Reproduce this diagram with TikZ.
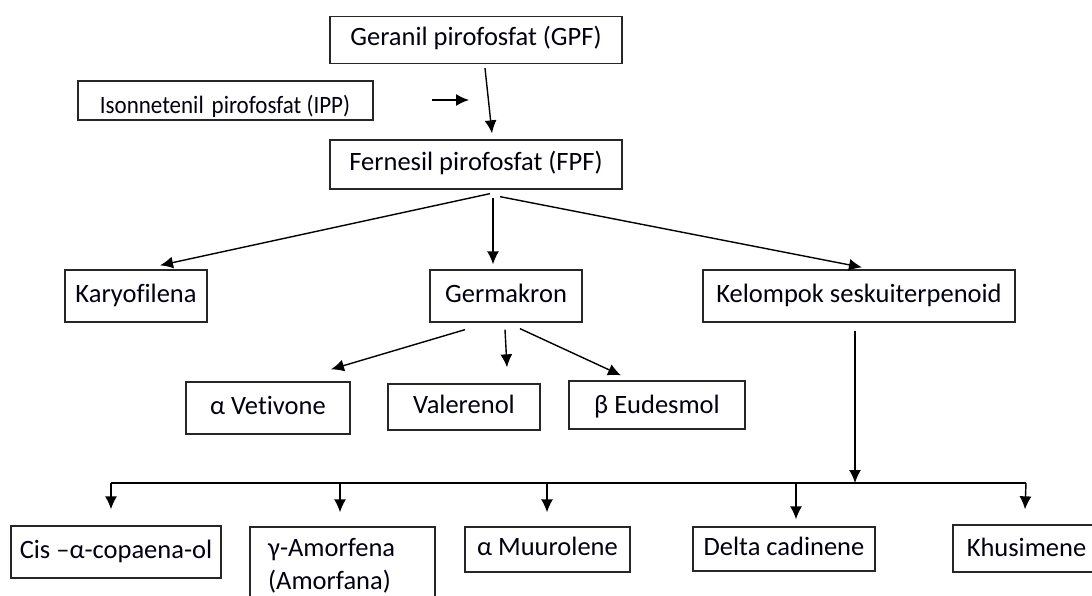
\documentclass[tikz,border=0pt]{standalone}
\usepackage{fontspec}
\setmainfont[Ligatures={NoCommon}]{Carlito}
\usetikzlibrary{arrows.meta,calc}
\begin{document}
\begin{tikzpicture}[x=1pt,y=-1pt,
  box/.style={draw=black!85, line width=1.3pt, rectangle, inner sep=0pt,
    font=\fontsize{26.5}{33}\selectfont, text height=18pt, text depth=6pt,
    text=black!85!blue!40!black},
  arr/.style={line width=1.4pt, -{Latex[length=13pt,width=12pt]}},
  ln/.style={line width=1.4pt}]
\useasboundingbox (0,0) rectangle (1092,596);
\clip (0,0) rectangle (1092,596);
% nodes
\node[box, minimum width=292pt, minimum height=47pt] (gpf) at (476,40) {Geranil pirofosfat (GPF)};
\node[box, minimum width=295pt, minimum height=39pt] (ipp) at (225.5,100.5) {};
\begin{scope}
\clip (78,81) rectangle (373,117);
\node[font=\fontsize{25}{30}\selectfont, text=black!85!blue!40!black, inner sep=0pt, text height=17pt, text depth=5pt] (ipptxt) at (225,108) {\scalebox{0.92}[1]{Isonnetenil\hspace{3pt} pirofosfat (IPP)}};
\end{scope}
\node[box, minimum width=292pt, minimum height=49pt] (fpf) at (476,164.5) {Fernesil pirofosfat (FPF)};
\node[box, minimum width=142pt, minimum height=52pt] (karyo) at (136,296) {Karyofilena};
\node[box, minimum width=152pt, minimum height=52pt] (germ) at (506,296) {Germakron};
\node[box, minimum width=312pt, minimum height=52pt] (kel) at (859,296) {Kelompok seskuiterpenoid};
\node[box, minimum width=164pt, minimum height=52pt] (vet) at (268,408) {α Vetivone};
\node[box, minimum width=152pt, minimum height=46pt] (val) at (464,407) {Valerenol};
\node[box, minimum width=176pt, minimum height=48pt] (eud) at (657,405) {\raisebox{-2pt}{β Eudesmol}};
\node[box, minimum width=210pt, minimum height=52pt] (cis) at (116,552) {Cis –α-copaena-ol};
\node[box, minimum width=185pt, minimum height=83pt] (amo) at (342.5,568.5) {};
\node[font=\fontsize{26.5}{33}\selectfont, text=black!85!blue!40!black, align=left, anchor=north west, inner sep=0pt] (amotxt) at (268,538) {γ-Amorfena\\(Amorfana)};
\node[box, minimum width=165pt, minimum height=45pt] (muu) at (547.5,549.5) {α Muurolene};
\node[box, minimum width=182pt, minimum height=44pt] (del) at (784,549) {Delta cadinene};
\node[box, minimum width=147pt, minimum height=47pt] (khu) at (1026.5,548.5) {\raisebox{-2pt}{Khusimene}};
% free-end coordinates
\coordinate (ippA) at (432,100);
\coordinate (ippB) at (469,100);
\coordinate (busK) at (855,483);
\coordinate (busL) at (111,483);
\coordinate (busR) at (1026,483);
% connectors
\draw[arr] (ippA) -- (ippB);
\draw[arr] ($(gpf.south)+(9,4)$) -- ($(fpf.north)+(16,-6)$);
\draw[arr] ($(fpf.south)+(14,4)$) -- ($(karyo.north)+(24,-4)$);
\draw[arr] ($(fpf.south)+(17,8)$) -- ($(germ.north)+(-13,-5)$);
\draw[arr] ($(fpf.south)+(24,7)$) -- ($(kel.north)+(3,-2)$);
\draw[arr] ($(germ.south)+(-41,7)$) -- ($(vet.north)+(63,-12)$);
\draw[arr] ($(germ.south)+(-1,7)$) -- ($(val.north)+(43,-16)$);
\draw[arr] ($(germ.south)+(14,6)$) -- ($(eud.north)+(-36,-5)$);
\draw[arr] ($(kel.south)+(-4,8)$) -- (busK);
\draw[ln] (busL) -- (busR);
\draw[arr] (busL) -- ($(cis.north)+(-5,-16)$);
\draw[arr] ($(amo.north)+(-2.5,-42)$) -- ($(amo.north)+(-2.5,-14)$);
\draw[arr] ($(muu.north)+(-0.5,-42)$) -- ($(muu.north)+(-0.5,-14)$);
\draw[arr] ($(del.north)+(12,-42)$) -- ($(del.north)+(12,-7)$);
\draw[arr] (busR) -- ($(khu.north)+(-1.5,-15)$);
\end{tikzpicture}
\end{document}
